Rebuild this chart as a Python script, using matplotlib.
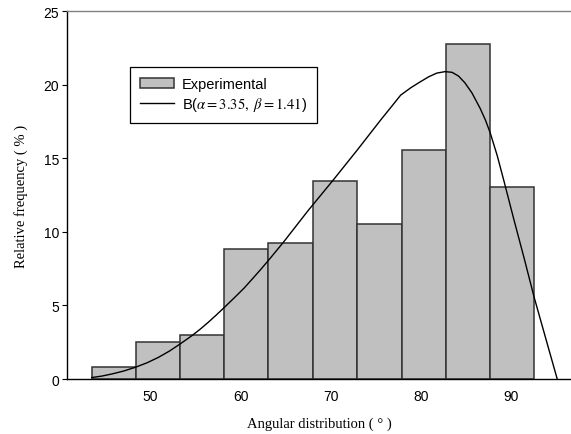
"""
plot.py
-------
Histogram of the measured angular distribution with the fitted beta curve.
Saves out.png (571x435).
"""

import matplotlib
matplotlib.use("Agg")
import matplotlib.pyplot as plt

# bin edges (degrees) and relative frequency (%) of each bin
bin_edges = [43.5, 48.4, 53.3, 58.2, 63.1, 68.0, 72.9, 77.9, 82.8, 87.7, 92.6]
rel_freq = [0.84, 2.53, 2.97, 8.87, 9.28, 13.49, 10.54, 15.59, 22.8, 13.05]

# fitted beta curve
curve_x = [43.47, 44.6, 45.69, 47.0, 48.28, 49.6, 50.87, 52.1, 53.28, 54.58,
           55.5, 56.4, 57.3, 58.2, 59.3, 60.42, 61.3, 62.24, 63.17, 64.76,
           67.5, 70.24, 73.0, 75.61, 76.8, 77.78, 78.9, 79.94, 80.9, 81.8,
           82.72, 83.5, 84.2, 84.9, 85.7, 86.61, 87.2, 87.72, 88.5, 89.28,
           90.31, 91.5, 92.61, 93.9, 95.17]
curve_y = [0.1, 0.2, 0.34, 0.54, 0.79, 1.1, 1.47, 1.9, 2.38, 2.94,
           3.38, 3.85, 4.35, 4.87, 5.52, 6.2, 6.8, 7.45, 8.12, 9.3,
           11.45, 13.49, 15.6, 17.65, 18.55, 19.3, 19.8, 20.2, 20.55, 20.8,
           20.9, 20.85, 20.6, 20.15, 19.45, 18.4, 17.6, 16.75, 15.2, 13.4,
           10.95, 8.2, 5.55, 2.75, 0.0]

y_ticks = [0, 5, 10, 15, 20, 25]
x_ticks = [50, 60, 70, 80, 90]

BAR_FILL, BAR_EDGE = "#c0c0c0", "#333333"
SANS, SERIF = "Liberation Sans", "Liberation Serif"

plt.rcParams["mathtext.fontset"] = "stix"

fig = plt.figure(figsize=(5.71, 4.35), dpi=100)
ax = fig.add_axes([0.1173, 0.1264, 0.8827, 0.8453])

widths = [b - a for a, b in zip(bin_edges[:-1], bin_edges[1:])]
bars = ax.bar(bin_edges[:-1], rel_freq, width=widths, align="edge",
              color=BAR_FILL, edgecolor=BAR_EDGE, lw=1.1, zorder=2)
line, = ax.plot(curve_x, curve_y, color="black", lw=1.0, zorder=3)

ax.set_xlim(40.72, 96.7)
ax.set_ylim(0, 25)
ax.set_xticks(x_ticks)
ax.set_yticks(y_ticks)
ax.tick_params(axis="x", length=0, pad=7, labelsize=10)
ax.tick_params(axis="y", length=3.5, width=0.8, pad=2, labelsize=10)
for lab in ax.get_xticklabels() + ax.get_yticklabels():
    lab.set_fontfamily(SANS)

ax.spines["right"].set_visible(False)
ax.spines["top"].set_color("#808080")
for s in ["left", "bottom", "top"]:
    ax.spines[s].set_linewidth(1.0)

ax.set_xlabel("Angular distribution ( \u00b0 )", family=SERIF, fontsize=10.5, labelpad=10)
ax.set_ylabel("Relative frequency ( % )", family=SERIF, fontsize=10.5, labelpad=11)

leg = ax.legend([bars, line],
                ["Experimental", r"B($\alpha = 3.35,\ \beta = 1.41$)"],
                loc="upper left", bbox_to_anchor=(0.125, 0.848), borderaxespad=0,
                prop={"family": SANS, "size": 10.5}, fancybox=False, framealpha=1,
                edgecolor="black", handlelength=2.3, handletextpad=0.55,
                borderpad=0.7, labelspacing=0.25)
leg.get_frame().set_linewidth(0.9)

fig.savefig("out.png", dpi=100)
